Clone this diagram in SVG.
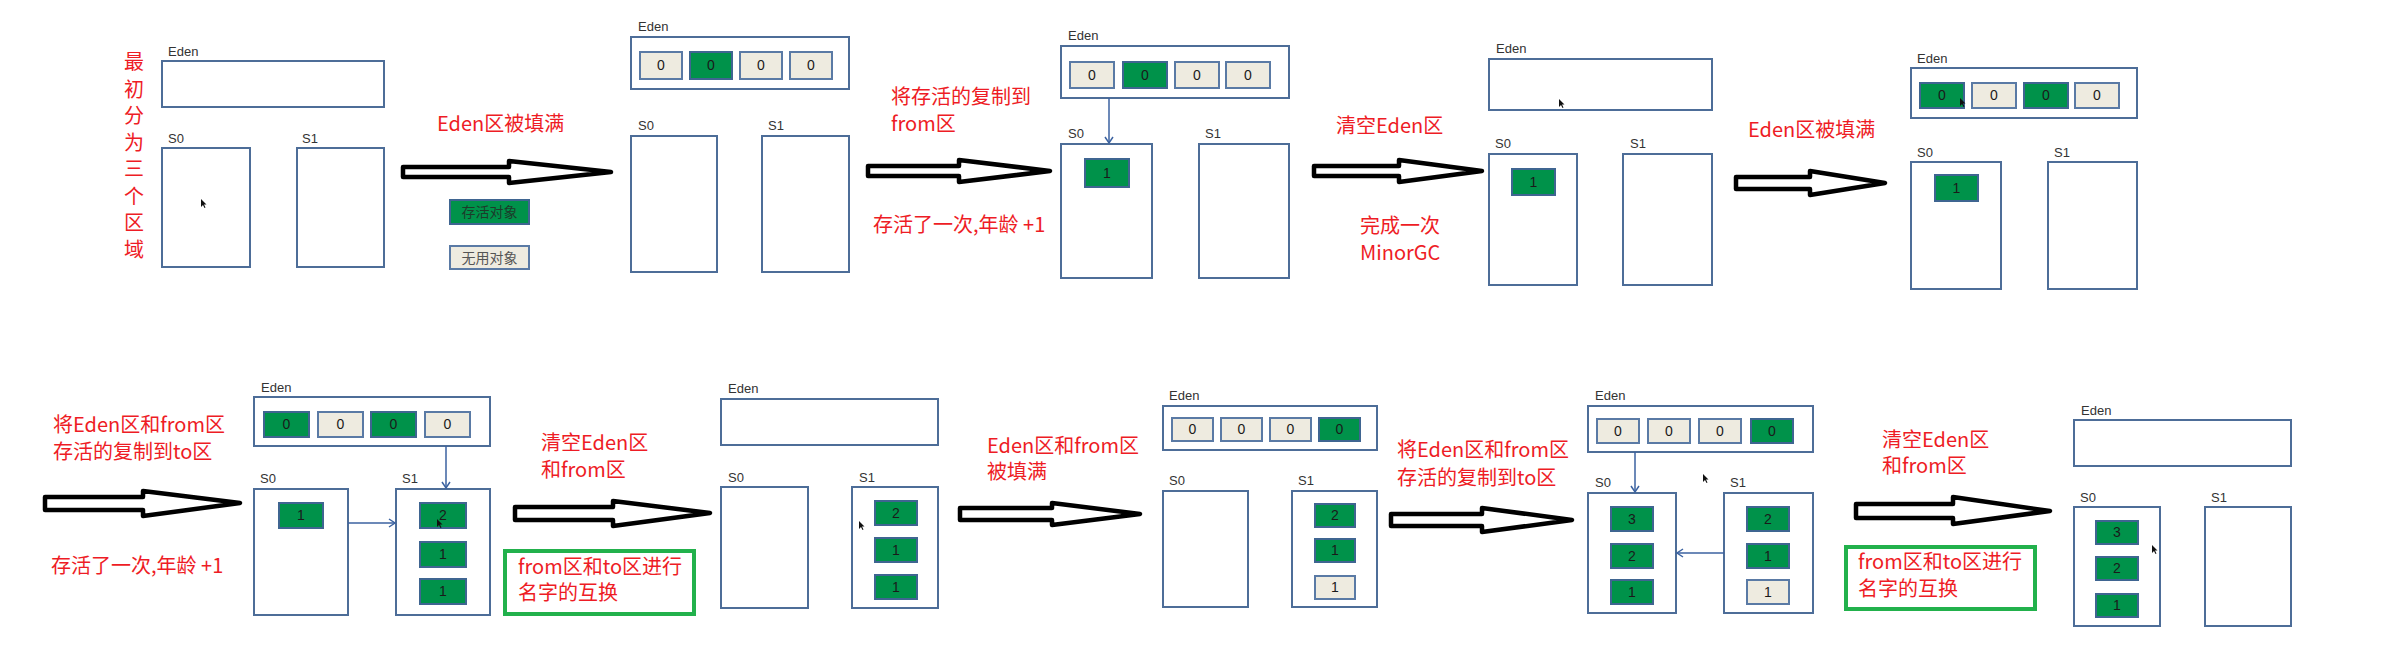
<svg xmlns="http://www.w3.org/2000/svg" xmlns:xlink="http://www.w3.org/1999/xlink" width="2386" height="666" viewBox="0 0 2386 666">
<style>
.box{fill:#fff;stroke:#4d6d98;stroke-width:2}
.cg{fill:#00924a;stroke:#3f6591;stroke-width:2}
.cb{fill:#eeebe0;stroke:#5a7aa5;stroke-width:2}
.lbl{font-family:"Liberation Sans","DejaVu Sans",sans-serif;font-size:13px;fill:#333}
.num{font-family:"Liberation Sans","DejaVu Sans",sans-serif;font-size:14px;fill:#1a1a1a;text-anchor:middle}
.red{font-family:"Noto Sans CJK SC","Noto Sans",sans-serif;font-size:20px;fill:#ee1c25}
.vt{text-anchor:middle}
.leg{font-family:"Noto Sans CJK SC",sans-serif;font-size:14px;text-anchor:middle}
.big{fill:#fff;stroke:#000;stroke-width:4.5;stroke-linejoin:round}
.thin{fill:none;stroke:#3b62a0;stroke-width:1.5;marker-end:url(#ah)}
.frame{fill:none;stroke:#22b14c;stroke-width:4}
.cur{fill:#111}
</style>
<defs>
<marker id="ah" markerWidth="10" markerHeight="10" refX="8" refY="5" orient="auto" markerUnits="userSpaceOnUse"><path d="M2,1 L8,5 L2,9" fill="none" stroke="#3b62a0" stroke-width="1.5"/></marker>
<path id="curs" d="M0,0 L0,8 L2,6 L3.5,9 L4.5,8.5 L3,5.5 L5.5,5.5 Z"/>
</defs>
<rect width="2386" height="666" fill="#fff"/>

<!-- Panel 1 -->
<g id="p1-title">
<text class="red vt" x="134" y="69">最</text>
<text class="red vt" x="134" y="97">初</text>
<text class="red vt" x="134" y="123">分</text>
<text class="red vt" x="134" y="150">为</text>
<text class="red vt" x="134" y="176">三</text>
<text class="red vt" x="134" y="204">个</text>
<text class="red vt" x="134" y="230">区</text>
<text class="red vt" x="134" y="257">域</text>
</g>
<g id="p1-eden"><text class="lbl" x="168" y="56">Eden</text><rect class="box" x="162" y="61" width="222" height="46"/></g>
<g id="p1-s0"><text class="lbl" x="168" y="143">S0</text><rect class="box" x="162" y="148" width="88" height="119"/></g>
<g id="p1-s1"><text class="lbl" x="302" y="143">S1</text><rect class="box" x="297" y="148" width="87" height="119"/></g>
<g id="p1-note"><text class="red" x="437" y="131">Eden区被填满</text></g>
<g id="legend-live"><rect class="cg" x="450" y="200" width="79" height="24"/><text class="leg" x="489.5" y="217" fill="#1d3b2a">存活对象</text></g>
<g id="legend-dead"><rect class="cb" x="450" y="246" width="79" height="23"/><text class="leg" x="489.5" y="263" fill="#555">无用对象</text></g>

<!-- Panel 2 -->
<g id="p2-eden"><text class="lbl" x="638" y="31">Eden</text><rect class="box" x="631" y="37" width="218" height="52"/>
<rect class="cb" x="640" y="52" width="42" height="27"/><text class="num" x="661" y="70">0</text>
<rect class="cg" x="690" y="52" width="42" height="27"/><text class="num" x="711" y="70">0</text>
<rect class="cb" x="740" y="52" width="42" height="27"/><text class="num" x="761" y="70">0</text>
<rect class="cb" x="790" y="52" width="42" height="27"/><text class="num" x="811" y="70">0</text></g>
<g id="p2-s0"><text class="lbl" x="638" y="130">S0</text><rect class="box" x="631" y="136" width="86" height="136"/></g>
<g id="p2-s1"><text class="lbl" x="768" y="130">S1</text><rect class="box" x="762" y="136" width="87" height="136"/></g>
<g id="p2-note"><text class="red" x="891" y="104">将存活的复制到</text><text class="red" x="891" y="131">from区</text><text class="red" x="873" y="232">存活了一次,年龄 +1</text></g>

<!-- Panel 3 -->
<g id="p3-eden"><text class="lbl" x="1068" y="40">Eden</text><rect class="box" x="1061" y="46" width="228" height="52"/>
<rect class="cb" x="1070" y="62" width="44" height="26"/><text class="num" x="1092" y="80">0</text>
<rect class="cg" x="1123" y="62" width="44" height="26"/><text class="num" x="1145" y="80">0</text>
<rect class="cb" x="1175" y="62" width="44" height="26"/><text class="num" x="1197" y="80">0</text>
<rect class="cb" x="1226" y="62" width="44" height="26"/><text class="num" x="1248" y="80">0</text></g>
<g id="p3-s0"><text class="lbl" x="1068" y="138">S0</text><rect class="box" x="1061" y="144" width="91" height="134"/>
<rect class="cg" x="1085" y="159" width="44" height="28"/><text class="num" x="1107" y="178">1</text></g>
<g id="p3-s1"><text class="lbl" x="1205" y="138">S1</text><rect class="box" x="1199" y="144" width="90" height="134"/></g>
<g id="p3-note"><text class="red" x="1336" y="133">清空Eden区</text><text class="red" x="1360" y="233">完成一次</text><text class="red" x="1360" y="260">MinorGC</text></g>

<!-- Panel 4 -->
<g id="p4-eden"><text class="lbl" x="1496" y="53">Eden</text><rect class="box" x="1489" y="59" width="223" height="51"/></g>
<g id="p4-s0"><text class="lbl" x="1495" y="148">S0</text><rect class="box" x="1489" y="154" width="88" height="131"/>
<rect class="cg" x="1512" y="169" width="43" height="26"/><text class="num" x="1533.5" y="187">1</text></g>
<g id="p4-s1"><text class="lbl" x="1630" y="148">S1</text><rect class="box" x="1623" y="154" width="89" height="131"/></g>
<g id="p4-note"><text class="red" x="1748" y="137">Eden区被填满</text></g>

<!-- Panel 5 -->
<g id="p5-eden"><text class="lbl" x="1917" y="63">Eden</text><rect class="box" x="1911" y="68" width="226" height="50"/>
<rect class="cg" x="1920" y="83" width="44" height="25"/><text class="num" x="1942" y="100">0</text>
<rect class="cb" x="1972" y="83" width="44" height="25"/><text class="num" x="1994" y="100">0</text>
<rect class="cg" x="2024" y="83" width="44" height="25"/><text class="num" x="2046" y="100">0</text>
<rect class="cb" x="2075" y="83" width="44" height="25"/><text class="num" x="2097" y="100">0</text></g>
<g id="p5-s0"><text class="lbl" x="1917" y="157">S0</text><rect class="box" x="1911" y="162" width="90" height="127"/>
<rect class="cg" x="1935" y="175" width="43" height="26"/><text class="num" x="1956.5" y="193">1</text></g>
<g id="p5-s1"><text class="lbl" x="2054" y="157">S1</text><rect class="box" x="2048" y="162" width="89" height="127"/></g>

<!-- Panel 6 -->
<g id="p6-note"><text class="red" x="53" y="432">将Eden区和from区</text><text class="red" x="53" y="459">存活的复制到to区</text><text class="red" x="51" y="573">存活了一次,年龄 +1</text></g>
<g id="p6-eden"><text class="lbl" x="261" y="392">Eden</text><rect class="box" x="254" y="397" width="236" height="49"/>
<rect class="cg" x="264" y="412" width="45" height="25"/><text class="num" x="286.5" y="429">0</text>
<rect class="cb" x="318" y="412" width="45" height="25"/><text class="num" x="340.5" y="429">0</text>
<rect class="cg" x="371" y="412" width="45" height="25"/><text class="num" x="393.5" y="429">0</text>
<rect class="cb" x="425" y="412" width="45" height="25"/><text class="num" x="447.5" y="429">0</text></g>
<g id="p6-s0"><text class="lbl" x="260" y="483">S0</text><rect class="box" x="254" y="489" width="94" height="126"/>
<rect class="cg" x="279" y="503" width="44" height="25"/><text class="num" x="301" y="520">1</text></g>
<g id="p6-s1"><text class="lbl" x="402" y="483">S1</text><rect class="box" x="396" y="489" width="94" height="126"/>
<rect class="cg" x="420" y="503" width="46" height="25"/><text class="num" x="443" y="520">2</text>
<rect class="cg" x="420" y="542" width="46" height="25"/><text class="num" x="443" y="559">1</text>
<rect class="cg" x="420" y="579" width="46" height="25"/><text class="num" x="443" y="596">1</text></g>
<g id="p6-clear"><text class="red" x="541" y="450">清空Eden区</text><text class="red" x="541" y="477">和from区</text></g>
<g id="p6-swap"><rect class="frame" x="505" y="551" width="189" height="63"/><text class="red" x="518" y="574">from区和to区进行</text><text class="red" x="518" y="600">名字的互换</text></g>

<!-- Panel 7 -->
<g id="p7-eden"><text class="lbl" x="728" y="393">Eden</text><rect class="box" x="721" y="399" width="217" height="46"/></g>
<g id="p7-s0"><text class="lbl" x="728" y="482">S0</text><rect class="box" x="721" y="487" width="87" height="121"/></g>
<g id="p7-s1"><text class="lbl" x="859" y="482">S1</text><rect class="box" x="852" y="487" width="86" height="121"/>
<rect class="cg" x="875" y="501" width="42" height="24"/><text class="num" x="896" y="518">2</text>
<rect class="cg" x="875" y="538" width="42" height="24"/><text class="num" x="896" y="555">1</text>
<rect class="cg" x="875" y="575" width="42" height="24"/><text class="num" x="896" y="592">1</text></g>
<g id="p7-note"><text class="red" x="987" y="453">Eden区和from区</text><text class="red" x="987" y="479">被填满</text></g>

<!-- Panel 8 -->
<g id="p8-eden"><text class="lbl" x="1169" y="400">Eden</text><rect class="box" x="1163" y="406" width="214" height="44"/>
<rect class="cb" x="1172" y="418" width="41" height="23"/><text class="num" x="1192.5" y="434">0</text>
<rect class="cb" x="1221" y="418" width="41" height="23"/><text class="num" x="1241.5" y="434">0</text>
<rect class="cb" x="1270" y="418" width="41" height="23"/><text class="num" x="1290.5" y="434">0</text>
<rect class="cg" x="1319" y="418" width="41" height="23"/><text class="num" x="1339.5" y="434">0</text></g>
<g id="p8-s0"><text class="lbl" x="1169" y="485">S0</text><rect class="box" x="1163" y="491" width="85" height="116"/></g>
<g id="p8-s1"><text class="lbl" x="1298" y="485">S1</text><rect class="box" x="1292" y="491" width="85" height="116"/>
<rect class="cg" x="1315" y="504" width="40" height="23"/><text class="num" x="1335" y="520">2</text>
<rect class="cg" x="1315" y="539" width="40" height="23"/><text class="num" x="1335" y="555">1</text>
<rect class="cb" x="1315" y="576" width="40" height="23"/><text class="num" x="1335" y="592">1</text></g>
<g id="p8-note"><text class="red" x="1397" y="457">将Eden区和from区</text><text class="red" x="1397" y="485">存活的复制到to区</text></g>

<!-- Panel 9 -->
<g id="p9-eden"><text class="lbl" x="1595" y="400">Eden</text><rect class="box" x="1588" y="406" width="225" height="46"/>
<rect class="cb" x="1597" y="419" width="42" height="24"/><text class="num" x="1618" y="436">0</text>
<rect class="cb" x="1648" y="419" width="42" height="24"/><text class="num" x="1669" y="436">0</text>
<rect class="cb" x="1699" y="419" width="42" height="24"/><text class="num" x="1720" y="436">0</text>
<rect class="cg" x="1751" y="419" width="42" height="24"/><text class="num" x="1772" y="436">0</text></g>
<g id="p9-s0"><text class="lbl" x="1595" y="487">S0</text><rect class="box" x="1588" y="493" width="88" height="120"/>
<rect class="cg" x="1611" y="507" width="42" height="24"/><text class="num" x="1632" y="524">3</text>
<rect class="cg" x="1611" y="544" width="42" height="24"/><text class="num" x="1632" y="561">2</text>
<rect class="cg" x="1611" y="580" width="42" height="24"/><text class="num" x="1632" y="597">1</text></g>
<g id="p9-s1"><text class="lbl" x="1730" y="487">S1</text><rect class="box" x="1724" y="493" width="89" height="120"/>
<rect class="cg" x="1747" y="507" width="42" height="24"/><text class="num" x="1768" y="524">2</text>
<rect class="cg" x="1747" y="544" width="42" height="24"/><text class="num" x="1768" y="561">1</text>
<rect class="cb" x="1747" y="580" width="42" height="24"/><text class="num" x="1768" y="597">1</text></g>

<!-- Panel 10 -->
<g id="p10-clear"><text class="red" x="1882" y="447">清空Eden区</text><text class="red" x="1882" y="473">和from区</text></g>
<g id="p10-swap"><rect class="frame" x="1846" y="547" width="189" height="62"/><text class="red" x="1858" y="569">from区和to区进行</text><text class="red" x="1858" y="596">名字的互换</text></g>
<g id="p10-eden"><text class="lbl" x="2081" y="415">Eden</text><rect class="box" x="2074" y="420" width="217" height="46"/></g>
<g id="p10-s0"><text class="lbl" x="2080" y="502">S0</text><rect class="box" x="2074" y="507" width="86" height="119"/>
<rect class="cg" x="2096" y="521" width="42" height="23"/><text class="num" x="2117" y="537">3</text>
<rect class="cg" x="2096" y="557" width="42" height="23"/><text class="num" x="2117" y="573">2</text>
<rect class="cg" x="2096" y="594" width="42" height="23"/><text class="num" x="2117" y="610">1</text></g>
<g id="p10-s1"><text class="lbl" x="2211" y="502">S1</text><rect class="box" x="2205" y="507" width="86" height="119"/></g>

<!-- Connectors -->
<g id="connectors">
<path class="big" d="M403,167 L509,167 L509,161 L611,172 L509,183 L509,177 L403,177 Z"/>
<path class="big" d="M868,166 L959,166 L959,160 L1050,171 L959,182 L959,176 L868,176 Z"/>
<path class="big" d="M1314,166 L1399,166 L1399,160 L1482,171 L1399,182 L1399,176 L1314,176 Z"/>
<path class="big" d="M1736,177 L1810,177 L1810,171 L1885,183 L1810,195 L1810,189 L1736,189 Z"/>
<path class="big" d="M45,497 L143,497 L143,491 L240,503 L143,516 L143,510 L45,510 Z"/>
<path class="big" d="M515,507 L613,507 L613,501 L710,513 L613,526 L613,520 L515,520 Z"/>
<path class="big" d="M960,508 L1052,508 L1052,503 L1140,514 L1052,525 L1052,520 L960,520 Z"/>
<path class="big" d="M1391,514 L1482,514 L1482,508 L1572,520 L1482,532 L1482,526 L1391,526 Z"/>
<path class="big" d="M1856,504 L1953,504 L1953,497 L2050,511 L1953,524 L1953,518 L1856,518 Z"/>
<path class="thin" d="M1109,98 L1109,143"/>
<path class="thin" d="M446,446 L446,488"/>
<path class="thin" d="M348,523 L395,523"/>
<path class="thin" d="M1635,452 L1635,492"/>
<path class="thin" d="M1724,553 L1677,553"/>
</g>

<!-- cursors -->
<g id="cursors">
<use href="#curs" xlink:href="#curs" class="cur" x="201" y="199"/>
<use href="#curs" xlink:href="#curs" class="cur" x="1559" y="99"/>
<use href="#curs" xlink:href="#curs" class="cur" x="1960" y="98"/>
<use href="#curs" xlink:href="#curs" class="cur" x="437" y="519"/>
<use href="#curs" xlink:href="#curs" class="cur" x="859" y="521"/>
<use href="#curs" xlink:href="#curs" class="cur" x="1703" y="474"/>
<use href="#curs" xlink:href="#curs" class="cur" x="2152" y="545"/>
</g>
</svg>
